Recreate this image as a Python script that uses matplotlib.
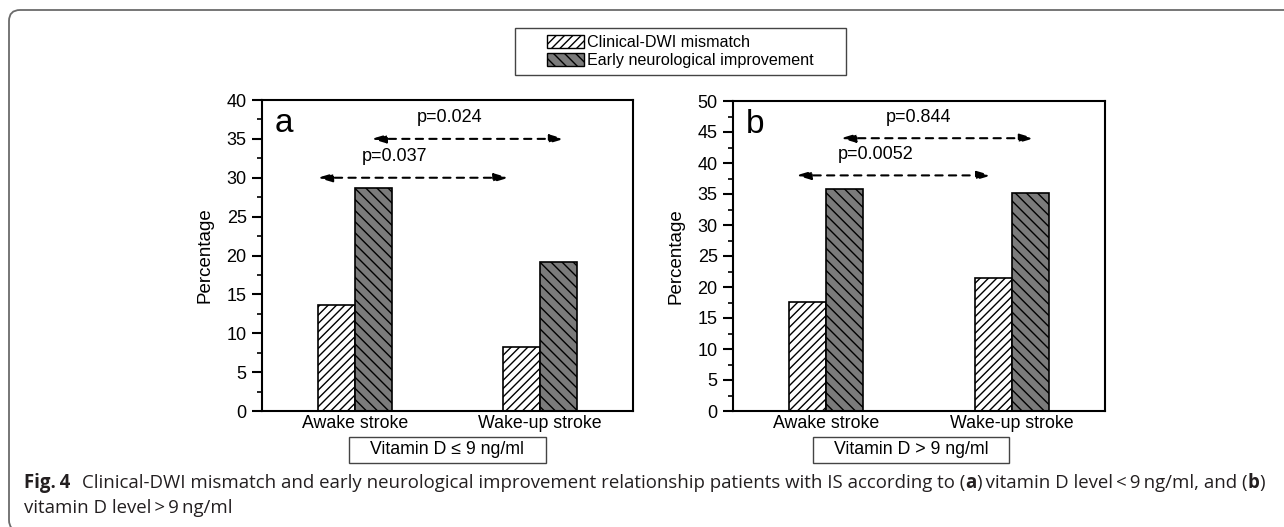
#!/usr/bin/env python3
"""Clinical-DWI mismatch and early neurological improvement by vitamin D level."""

import matplotlib
matplotlib.use('Agg')
import matplotlib.pyplot as plt
import numpy as np
from matplotlib.patches import Patch, Rectangle, FancyBboxPatch
from matplotlib.ticker import MultipleLocator

# Data
groups = ['Awake stroke', 'Wake-up stroke']
series = ['Clinical-DWI mismatch', 'Early neurological improvement']

low_vitd_mismatch = [13.6, 8.2]
low_vitd_improve = [28.7, 19.2]
high_vitd_mismatch = [17.6, 21.4]
high_vitd_improve = [35.8, 35.2]

panel_letters = ['a', 'b']
panel_boxes = ['Vitamin D \u2264 9 ng/ml', 'Vitamin D > 9 ng/ml']
panel_ylim = [40, 50]

# p-value brackets: (x start, x end, y, label)
low_pvals = [(0.80, 1.83, 30, 'p=0.037'), (1.09, 2.13, 35, 'p=0.024')]
high_pvals = [(0.84, 1.89, 38, 'p=0.0052'), (1.08, 2.12, 44, 'p=0.844')]

W, H = 1284, 527

plt.rcParams['font.family'] = ['Liberation Sans', 'DejaVu Sans']
plt.rcParams['hatch.linewidth'] = 1.0

fig = plt.figure(figsize=(W / 100, H / 100), dpi=100)

# outer rounded frame (open to the right and bottom); display coords
frame = FancyBboxPatch((9, -4), W + 40, H - 6,
                       boxstyle='round,pad=0,rounding_size=11',
                       transform=None, fill=False, ec='#6b6b6b', lw=1.3)
fig.patches.append(frame)


def px_rect(x0, y0, x1, y1):
    return [x0 / W, 1 - y1 / H, (x1 - x0) / W, (y1 - y0) / H]


ax_a = fig.add_axes(px_rect(262, 100, 633, 411))
ax_b = fig.add_axes(px_rect(733, 101, 1105, 411))

gray = '#7b7b7b'
x = np.arange(1, len(groups) + 1)
bw = 0.2

panels = [
    (ax_a, low_vitd_mismatch, low_vitd_improve, low_pvals),
    (ax_b, high_vitd_mismatch, high_vitd_improve, high_pvals),
]

for i, (ax, mism, impr, pvals) in enumerate(panels):
    ax.bar(x - bw / 2, mism, bw, color='white', edgecolor='black',
           hatch='////', lw=1.2, zorder=2)
    ax.bar(x + bw / 2, impr, bw, color=gray, edgecolor='black',
           hatch='\\\\\\', lw=1.2, zorder=2)

    ax.set_xlim(0.5, 2.5)
    ax.set_ylim(0, panel_ylim[i])
    ax.yaxis.set_major_locator(MultipleLocator(5))
    ax.yaxis.set_minor_locator(MultipleLocator(2.5))
    ax.set_xticks(x)
    ax.set_xticklabels(groups, fontsize=12.8)
    ax.tick_params(axis='x', length=0, pad=3)
    ax.tick_params(axis='y', which='major', length=7, width=1.5,
                   labelsize=13, pad=4)
    ax.tick_params(axis='y', which='minor', length=3.6, width=1.2)
    for sp in ax.spines.values():
        sp.set_linewidth(1.5)

    ax.set_ylabel('Percentage', fontsize=13.5, va='center')
    ax.yaxis.set_label_coords(-57 / 371, 0.5)

    ax.text(0.035, 0.925, panel_letters[i], transform=ax.transAxes,
            fontsize=24, ha='left', va='center')

    for x0, x1, y, label in pvals:
        ax.annotate('', xy=(x1, y), xytext=(x0, y),
                    arrowprops=dict(arrowstyle='<|-|>,head_length=0.85,head_width=0.25',
                                    linestyle=(0, (3.5, 3)), lw=1.5,
                                    color='black', shrinkA=0, shrinkB=0))
        ax.text((x0 + x1) / 2 - 0.1, y + panel_ylim[i] * 0.068, label,
                fontsize=13, ha='center', va='center')

# legend with its own box
handles = [Patch(facecolor='white', edgecolor='black', hatch='////', lw=1),
           Patch(facecolor=gray, edgecolor='black', hatch='\\\\\\', lw=1)]
fig.legend(handles, series, loc='center',
           bbox_to_anchor=(680 / W, 1 - 51.5 / H), frameon=False,
           fontsize=11.6, handlelength=2.3, handleheight=0.85,
           handletextpad=0.2, labelspacing=0.2, borderpad=0)
fig.patches.append(Rectangle((515 / W, 1 - 75 / H), 331 / W, 47 / H,
                             transform=fig.transFigure, fill=False,
                             ec='#444444', lw=1))

# condition boxes under each panel
for (bx0, bx1), label in zip([(349, 546), (813, 1009)], panel_boxes):
    fig.patches.append(Rectangle((bx0 / W, 1 - 463 / H), (bx1 - bx0) / W,
                                 26 / H, transform=fig.transFigure,
                                 fill=False, ec='#444444', lw=1))
    fig.text((bx0 + bx1) / 2 / W, 1 - 450 / H, label, fontsize=12.8,
             ha='center', va='center')

# caption, laid out run by run so bold parts sit inline
cap_family = ['Open Sans', 'DejaVu Sans']
line1 = [('Fig.\u20094', 'bold'), (None, None),
         ('Clinical-DWI mismatch and early neurological improvement relationship '
          'patients with IS according to (', 'normal'),
         ('a', 'bold'),
         (')\u2009vitamin D level\u2009<\u20099\u2009ng/ml, and (', 'normal'),
         ('b', 'bold'), (')', 'normal')]
line2 = 'vitamin D level\u2009>\u20099\u2009ng/ml'

renderer = fig.canvas.get_renderer()
cap_x0, cap_x1 = 24, 1256
base1, base2 = 488, 513


def lay_out(size):
    texts = []
    xpos = cap_x0
    for s, wt in line1:
        if s is None:
            xpos += size * 0.9
            continue
        t = fig.text(xpos / W, 1 - base1 / H, s, fontsize=size, fontweight=wt,
                     family=cap_family, ha='left', va='baseline', color='#231f20')
        xpos += t.get_window_extent(renderer).width
        texts.append(t)
    return texts, xpos - cap_x0


texts, width = lay_out(13)
for t in texts:
    t.remove()
size = 13 * (cap_x1 - cap_x0) / width
lay_out(size)
fig.text(cap_x0 / W, 1 - base2 / H, line2, fontsize=size, family=cap_family,
         ha='left', va='baseline', color='#231f20')

fig.savefig('out.png', dpi=100)
